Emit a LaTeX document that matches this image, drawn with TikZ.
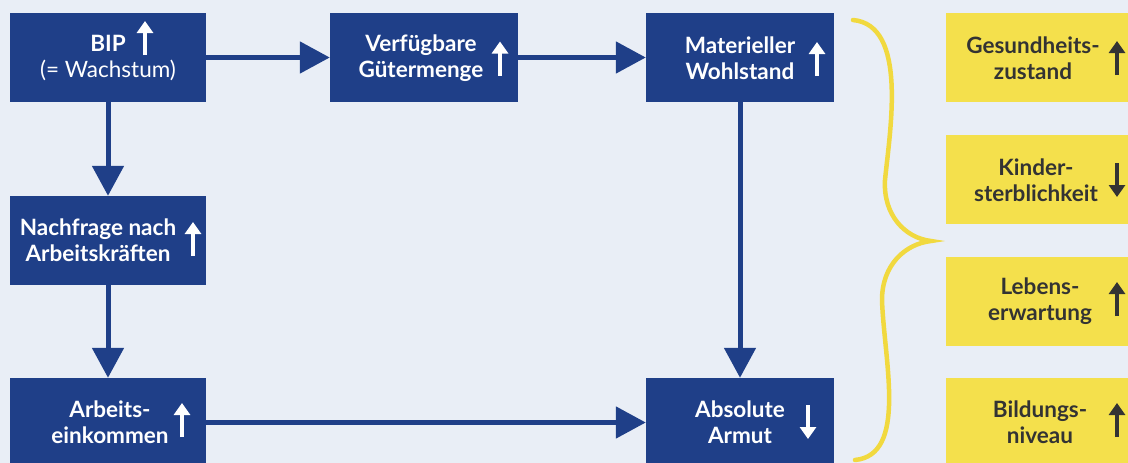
\documentclass[tikz,border=0pt]{standalone}
\usepackage{fontspec}
\setmainfont{Lato}
\usetikzlibrary{arrows.meta,calc}
\definecolor{bg}{HTML}{E9EEF6}
\definecolor{navy}{HTML}{1F3F88}
\definecolor{yel}{HTML}{F4E04C}
\definecolor{bracec}{HTML}{F1D93F}
\definecolor{ink}{HTML}{333333}
\begin{document}
\begin{tikzpicture}[x=1pt,y=-1pt,
  bluebox/.style={fill=navy, minimum width=188pt, minimum height=89pt, inner sep=0pt},
  yelbox/.style={fill=yel, minimum width=188pt, minimum height=89pt, inner sep=0pt},
  wtxt/.style={text=white, font=\fontsize{22.5}{26}\selectfont\bfseries, align=center, inner sep=0pt},
  dtxt/.style={text=ink, font=\fontsize{22.5}{26}\selectfont\bfseries, align=center, inner sep=0pt},
  conn/.style={draw=navy, line width=5pt, -{Triangle[length=30pt,width=31pt]}},
  icup/.pic={\draw[line width=4.5pt,-{Triangle[length=12pt,width=16pt]}] (0,17) -- (0,-17);},
  icdown/.pic={\draw[line width=4.5pt,-{Triangle[length=12pt,width=16pt]}] (0,-17) -- (0,17);}
]
\useasboundingbox (0,0) rectangle (1128,463);
\fill[bg] (0,0) rectangle (1128,463);
\clip (0,0) rectangle (1128,463);

% blue boxes
\node[bluebox, minimum width=196pt] (bip)  at (108,57.5) {};
\node[bluebox] (verf) at (424,57.5) {};
\node[bluebox] (mat)  at (740,57.5) {};
\node[bluebox, minimum width=196pt] (nach) at (108,240.5) {};
\node[bluebox, minimum width=196pt] (arb)  at (108,422.5) {};
\node[bluebox] (abs)  at (740,422.5) {};

% yellow boxes
\node[yelbox] (ges)  at (1040,57.5) {};
\node[yelbox] (kind) at (1040,179.5) {};
\node[yelbox] (leb)  at (1040,301.5) {};
\node[yelbox] (bild) at (1040,422.5) {};

% texts
\node[wtxt] (bipT) at (108,58) {BIP\\{\mdseries (= Wachstum)}};
\node[wtxt] (verfT) at (421,58) {Verfügbare\\Gütermenge};
\node[wtxt] (matT) at (740,58) {Materieller\\Wohlstand};
\node[wtxt] (nachT) at (98,240) {Nachfrage nach\\Arbeitskräften};
\node[wtxt] (arbT) at (110,422) {Arbeits-\\einkommen};
\node[wtxt] (absT) at (740,422) {Absolute\\Armut};
\node[dtxt] (gesT) at (1033,58) {Gesundheits-\\zustand};
\node[dtxt] (kindT) at (1036,180) {Kinder-\\sterblichkeit};
\node[dtxt] (lebT) at (1040,301) {Lebens-\\erwartung};
\node[dtxt] (bildT) at (1040,422) {Bildungs-\\niveau};

% icons
\pic[white] at (145,38) {icup};
\pic[white] at (500,58.5) {icup};
\pic[white] at (817,59) {icup};
\pic[white] at (193,239) {icup};
\pic[white] at (182,420) {icup};
\pic[white] at (808,422) {icdown};
\pic[ink] at (1117,58) {icup};
\pic[ink] at (1117,180) {icdown};
\pic[ink] at (1117,299) {icup};
\pic[ink] at (1117,420) {icup};

% connectors
\draw[conn] (bip) -- (verf);
\draw[conn] (verf) -- (mat);
\draw[conn] (bip) -- (nach);
\draw[conn] (nach) -- (arb);
\draw[conn] (mat) -- (abs);
\draw[conn] (arb) -- (abs);

% brace
\coordinate (btop) at (853,20);
\coordinate (btip) at (931,241);
\coordinate (bbot) at (855,460);
\draw[bracec, line width=4.5pt, line cap=round]
  (btop) .. controls (908,25) and (890,130) .. (885,180)
  .. controls (883,215) and (905,238) .. (btip)
  .. controls (905,244) and (882,265) .. (882,300)
  .. controls (884,360) and (908,455) .. (bbot);
\end{tikzpicture}
\end{document}
